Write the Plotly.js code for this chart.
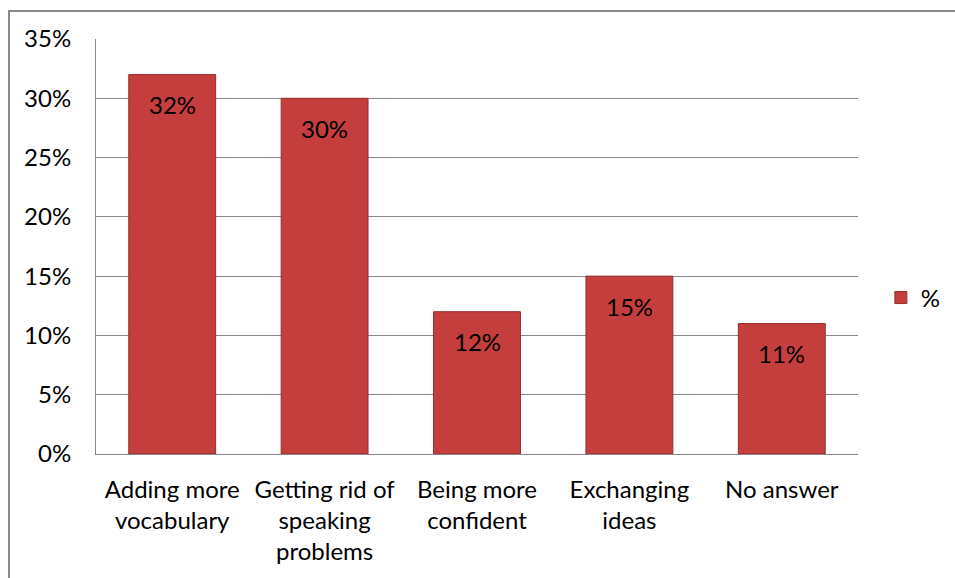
<!DOCTYPE html>
<html>
<head>
<meta charset="utf-8">
<script src="https://cdn.plot.ly/plotly-3.0.1.min.js"></script>
<style>
  html, body { margin: 0; padding: 0; background: #fff; overflow: hidden; }
  #chart { position: absolute; left: 0; top: 0; width: 955px; height: 578px; }
  #frame { position: absolute; left: 8px; top: 10px; width: 1000px; height: 1000px;
           border: 2px solid #8a8a8a; pointer-events: none; box-sizing: border-box; }
</style>
</head>
<body>
<div id="chart"></div>
<div id="frame"></div>
<script>
const categories = [
  "Adding more<br>vocabulary",
  "Getting rid of<br>speaking<br>problems",
  "Being more<br>confident",
  "Exchanging<br>ideas",
  "No answer"
];
const values = [32, 30, 12, 15, 11];
const valueLabels = ["32%", "30%", "12%", "15%", "11%"];
const seriesName = "%";
const yTicks = [0, 5, 10, 15, 20, 25, 30, 35];
const yTickLabels = ["0%", "5%", "10%", "15%", "20%", "25%", "30%", "35%"];

const FONT = "Lato, 'Open Sans', sans-serif";

const trace = {
  type: "bar",
  x: categories,
  y: values,
  name: seriesName,
  marker: { color: "#c53e3e", line: { color: "#9a2b2b", width: 1 } },
  showlegend: true,
  hoverinfo: "skip"
};

const annotations = categories.map((c, i) => ({
  x: c, y: values[i], xref: "x", yref: "y",
  text: valueLabels[i], showarrow: false,
  yanchor: "middle", yshift: -30,
  font: { family: FONT, size: 24, color: "#000" }
}));

const layout = {
  width: 955, height: 578,
  margin: { l: 96, r: 97, t: 39, b: 124, pad: 0, autoexpand: false },
  paper_bgcolor: "#fff", plot_bgcolor: "#fff",
  bargap: 0.43,
  font: { family: FONT, size: 24, color: "#000" },
  xaxis: {
    type: "category", tickangle: 0, showgrid: false,
    showline: true, linecolor: "#878787", linewidth: 1,
    ticks: "", ticklabelstandoff: 14,
    tickfont: { family: FONT, size: 24, color: "#000" },
    automargin: false, fixedrange: true
  },
  yaxis: {
    range: [0, 35], tickvals: yTicks, ticktext: yTickLabels,
    showgrid: true, gridcolor: "#878787", gridwidth: 1,
    showline: true, linecolor: "#878787", linewidth: 1,
    zeroline: false, ticks: "", ticklabelstandoff: 19,
    tickfont: { family: FONT, size: 24, color: "#000" },
    automargin: false, fixedrange: true
  },
  legend: {
    x: 1.03, y: 0.376, xanchor: "left", yanchor: "middle",
    font: { family: FONT, size: 24, color: "#000" },
    bgcolor: "rgba(0,0,0,0)", itemwidth: 30
  },
  annotations: annotations
};

Plotly.newPlot("chart", [trace], layout, { displayModeBar: false, staticPlot: true });
</script>
</body>
</html>
